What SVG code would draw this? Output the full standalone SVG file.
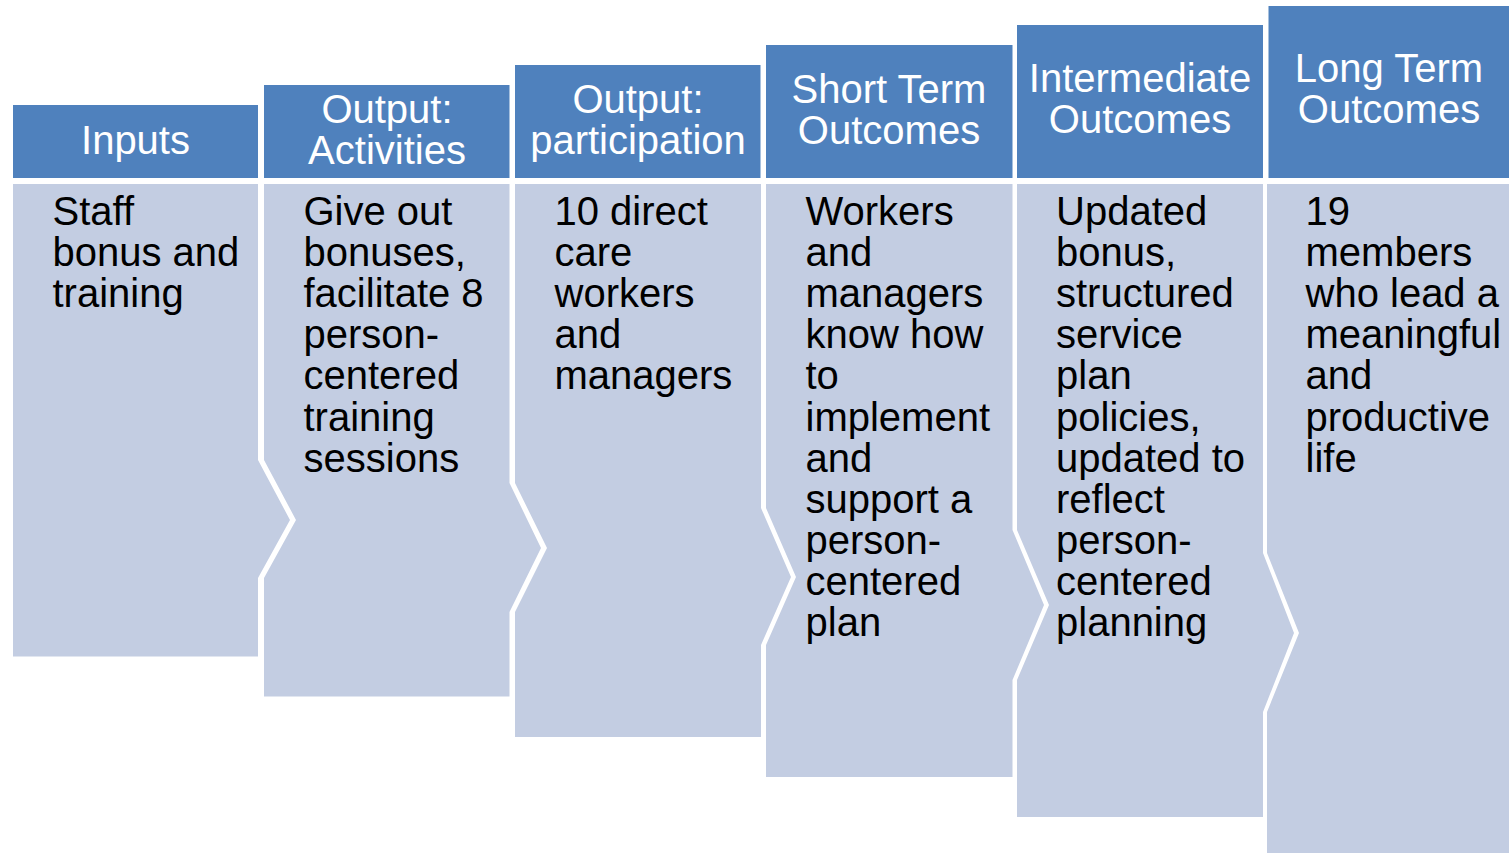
<svg xmlns="http://www.w3.org/2000/svg" width="1509" height="853" viewBox="0 0 1509 853">
  <style>
    .hdr { fill: #4F81BD; }
    .body { fill: #C3CDE2; }
    .ht { font-family: "Liberation Sans", Arial, sans-serif; font-size: 40px; fill: #FFFFFF; text-anchor: middle; }
    .bt { font-family: "Liberation Sans", Arial, sans-serif; font-size: 40px; fill: #000000; }
  </style>
  <rect width="1509" height="853" fill="#FFFFFF"/>
  <g id="connectors"></g>
  <g id="col-inputs">
    <rect class="hdr" x="13" y="105" width="245" height="73"/>
    <text class="ht" x="135.5" y="154">Inputs</text>
    <polygon class="body" points="13,184 258,184 258,460 290,520 258,578 258,656.5 13,656.5"/>
    <text class="bt" x="52.5" y="225">
      <tspan x="52.5" dy="0">Staff</tspan>
      <tspan x="52.5" dy="41.1">bonus and</tspan>
      <tspan x="52.5" dy="41.1">training</tspan>
    </text>
  </g>
  <g id="col-activities">
    <rect class="hdr" x="264" y="85" width="245.5" height="93"/>
    <text class="ht" x="387" y="123">Output:</text>
    <text class="ht" x="387" y="164">Activities</text>
    <polygon class="body" points="264,184 509.5,184 509.5,483 541,548 509.5,612 509.5,696.5 264,696.5 264,578 296,520 264,460"/>
    <text class="bt" x="303.5" y="225">
      <tspan x="303.5" dy="0">Give out</tspan>
      <tspan x="303.5" dy="41.1">bonuses,</tspan>
      <tspan x="303.5" dy="41.1">facilitate 8</tspan>
      <tspan x="303.5" dy="41.1">person-</tspan>
      <tspan x="303.5" dy="41.1">centered</tspan>
      <tspan x="303.5" dy="41.1">training</tspan>
      <tspan x="303.5" dy="41.1">sessions</tspan>
    </text>
  </g>
  <g id="col-participation">
    <rect class="hdr" x="515" y="65" width="245.5" height="113"/>
    <text class="ht" x="638" y="113">Output:</text>
    <text class="ht" x="638" y="154">participation</text>
    <polygon class="body" points="515,184 761,184 761,508 791,577 761,645 761,737 515,737 515,612 547,548 515,483"/>
    <text class="bt" x="554.5" y="225">
      <tspan x="554.5" dy="0">10 direct</tspan>
      <tspan x="554.5" dy="41.1">care</tspan>
      <tspan x="554.5" dy="41.1">workers</tspan>
      <tspan x="554.5" dy="41.1">and</tspan>
      <tspan x="554.5" dy="41.1">managers</tspan>
    </text>
  </g>
  <g id="col-short-term">
    <rect class="hdr" x="766" y="45" width="246.5" height="133"/>
    <text class="ht" x="889" y="102.5">Short Term</text>
    <text class="ht" x="889" y="143.5">Outcomes</text>
    <polygon class="body" points="766,184 1012.5,184 1012.5,530 1044,605 1012.5,680 1012.5,777 766,777 766,645 796,577 766,508"/>
    <text class="bt" x="805.5" y="225">
      <tspan x="805.5" dy="0">Workers</tspan>
      <tspan x="805.5" dy="41.1">and</tspan>
      <tspan x="805.5" dy="41.1">managers</tspan>
      <tspan x="805.5" dy="41.1">know how</tspan>
      <tspan x="805.5" dy="41.1">to</tspan>
      <tspan x="805.5" dy="41.1">implement</tspan>
      <tspan x="805.5" dy="41.1">and</tspan>
      <tspan x="805.5" dy="41.1">support a</tspan>
      <tspan x="805.5" dy="41.1">person-</tspan>
      <tspan x="805.5" dy="41.1">centered</tspan>
      <tspan x="805.5" dy="41.1">plan</tspan>
    </text>
  </g>
  <g id="col-intermediate">
    <rect class="hdr" x="1017" y="25" width="246" height="153"/>
    <text class="ht" x="1140" y="92">Intermediate</text>
    <text class="ht" x="1140" y="133">Outcomes</text>
    <polygon class="body" points="1017,184 1263,184 1263,553 1294,633 1263,712 1263,817 1017,817 1017,680 1049,605 1017,530"/>
    <text class="bt" x="1056" y="225">
      <tspan x="1056" dy="0">Updated</tspan>
      <tspan x="1056" dy="41.1">bonus,</tspan>
      <tspan x="1056" dy="41.1">structured</tspan>
      <tspan x="1056" dy="41.1">service</tspan>
      <tspan x="1056" dy="41.1">plan</tspan>
      <tspan x="1056" dy="41.1">policies,</tspan>
      <tspan x="1056" dy="41.1">updated to</tspan>
      <tspan x="1056" dy="41.1">reflect</tspan>
      <tspan x="1056" dy="41.1">person-</tspan>
      <tspan x="1056" dy="41.1">centered</tspan>
      <tspan x="1056" dy="41.1">planning</tspan>
    </text>
  </g>
  <g id="col-long-term">
    <rect class="hdr" x="1268.5" y="6" width="241" height="172"/>
    <text class="ht" x="1389" y="81.5">Long Term</text>
    <text class="ht" x="1389" y="122.5">Outcomes</text>
    <polygon class="body" points="1267,184 1509,184 1509,853 1267,853 1267,712 1299,633 1267,553"/>
    <text class="bt" x="1305.5" y="225">
      <tspan x="1305.5" dy="0">19</tspan>
      <tspan x="1305.5" dy="41.1">members</tspan>
      <tspan x="1305.5" dy="41.1">who lead a</tspan>
      <tspan x="1305.5" dy="41.1">meaningful</tspan>
      <tspan x="1305.5" dy="41.1">and</tspan>
      <tspan x="1305.5" dy="41.1">productive</tspan>
      <tspan x="1305.5" dy="41.1">life</tspan>
    </text>
  </g>
</svg>
